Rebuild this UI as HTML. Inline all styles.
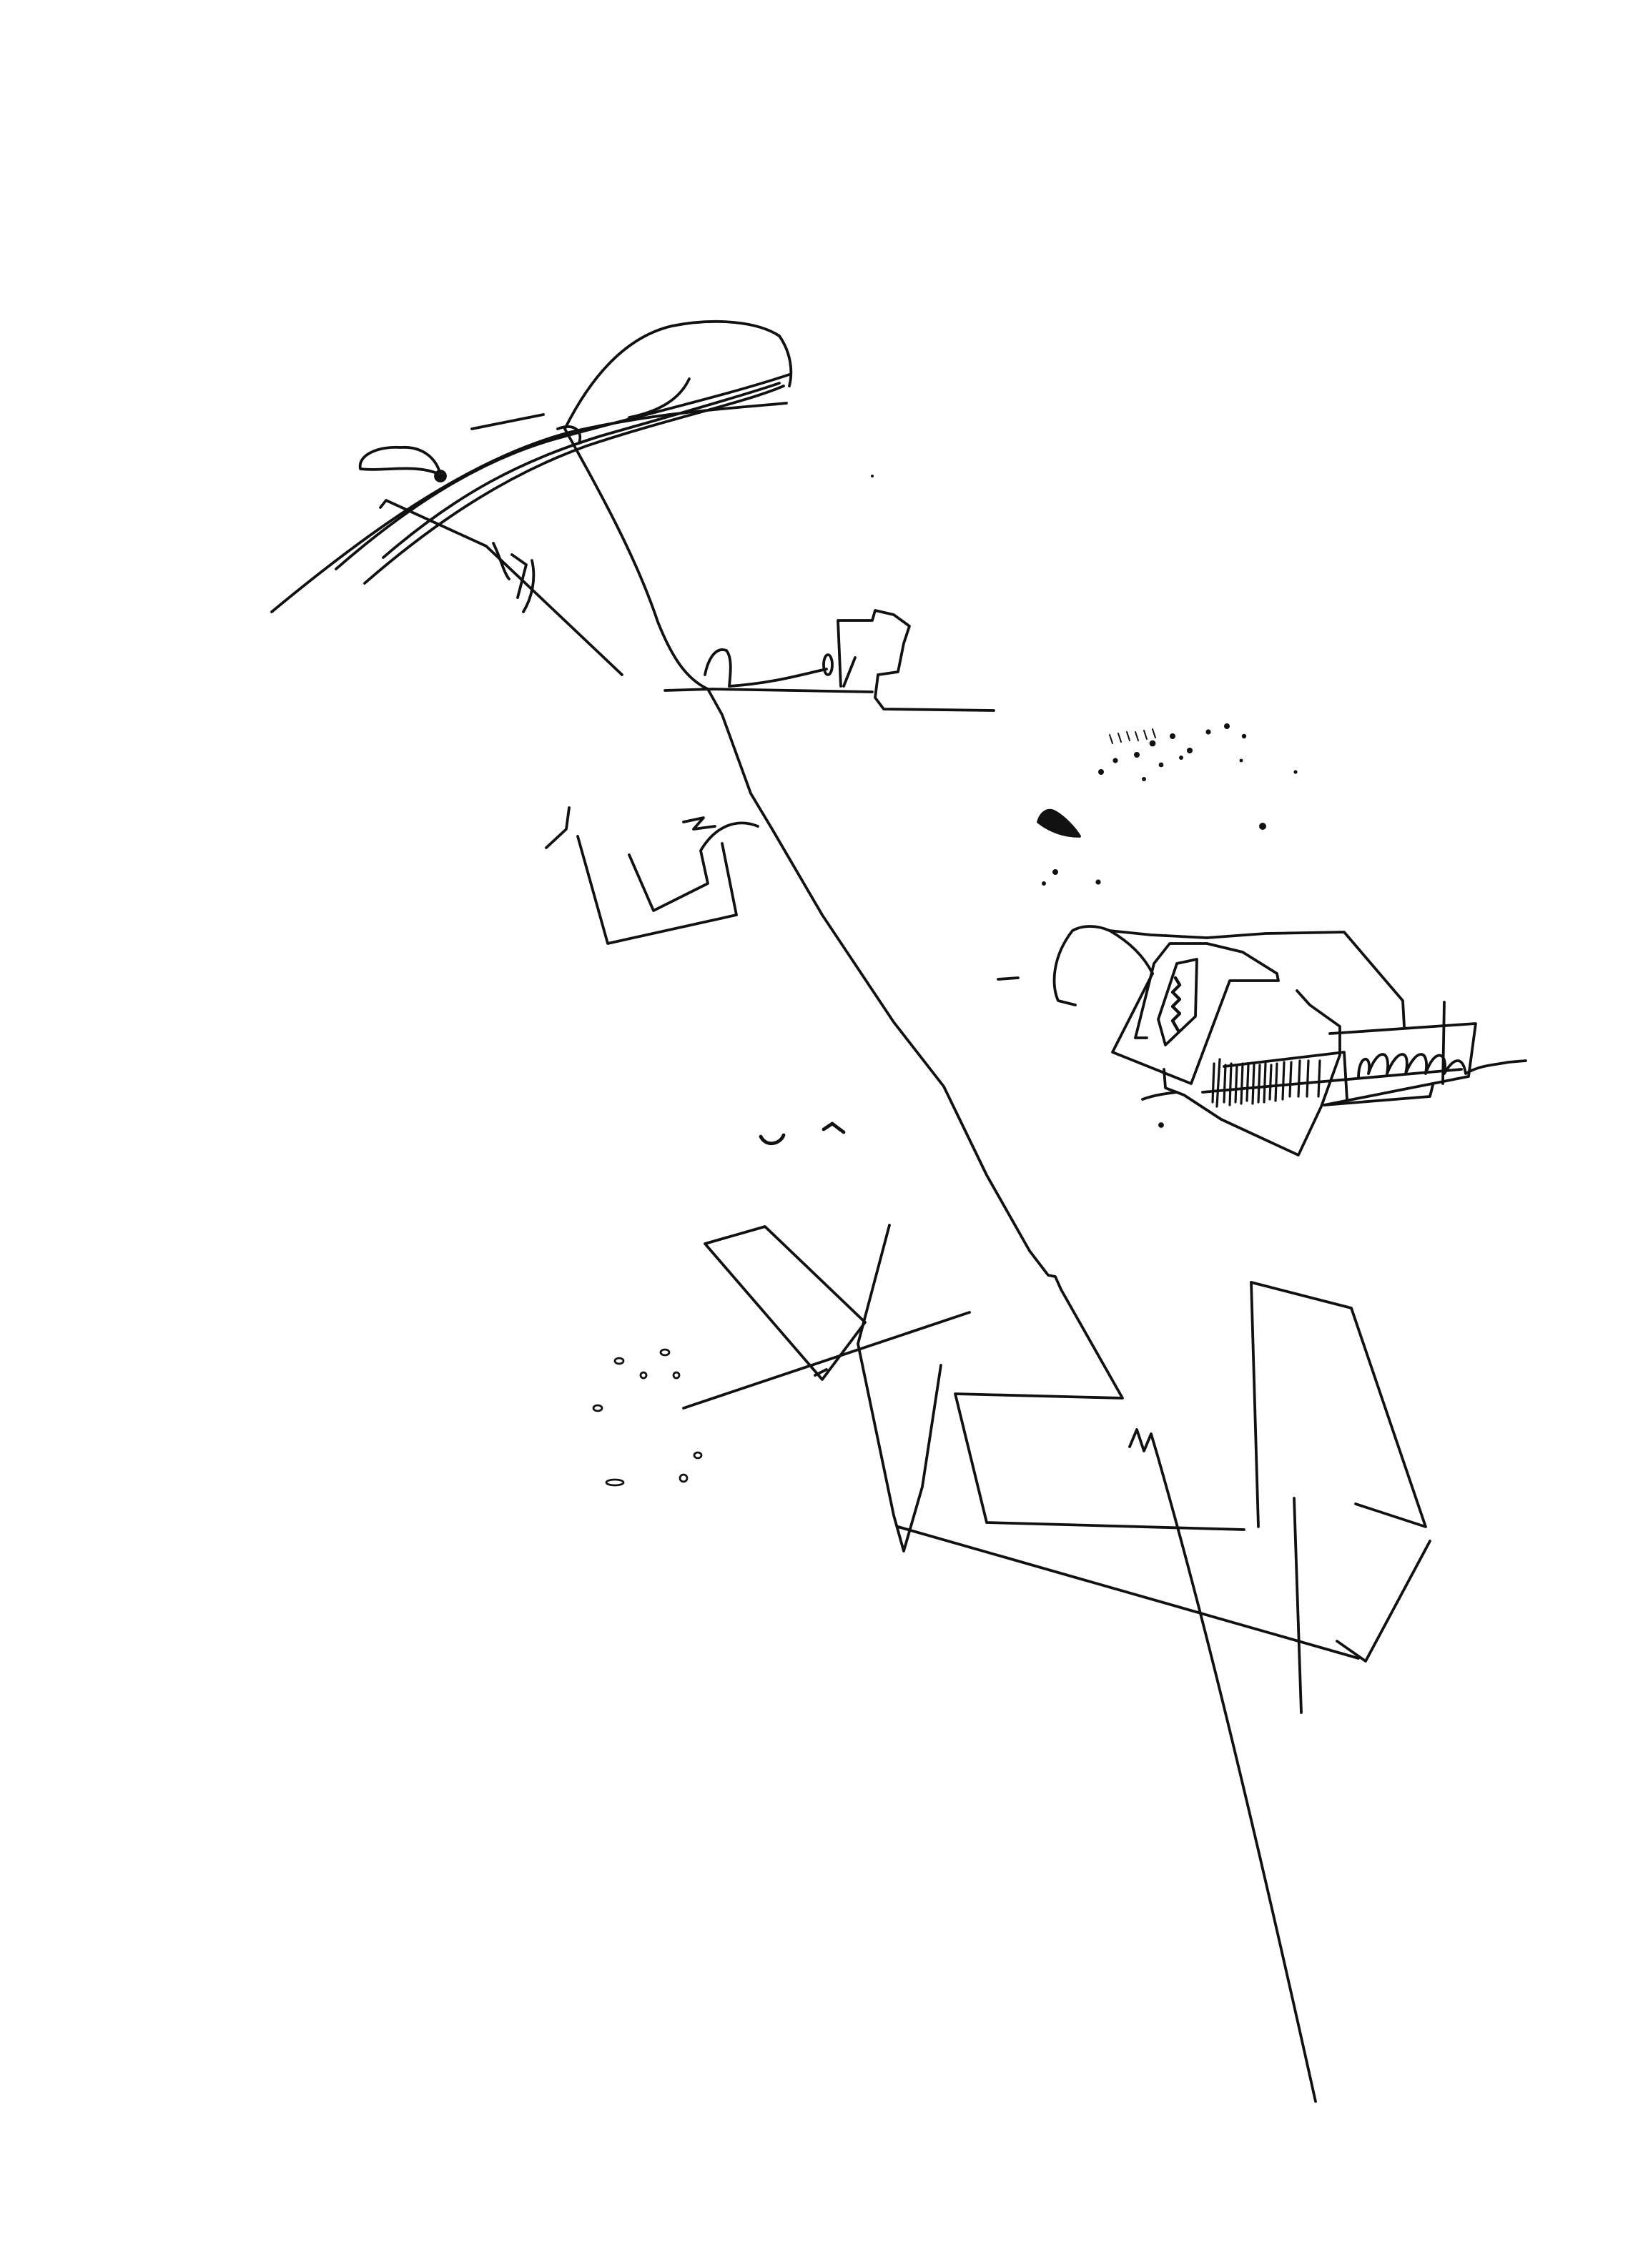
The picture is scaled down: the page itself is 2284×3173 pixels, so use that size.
<!DOCTYPE html>
<html><head><meta charset="utf-8"><style>html,body{margin:0;padding:0;background:#fff}svg{display:block}</style></head>
<body>
<svg width="2284" height="3173" viewBox="0 0 1142 1586.5" xmlns="http://www.w3.org/2000/svg">
<g fill="none" stroke="#111" stroke-width="1.9" stroke-linecap="round" stroke-linejoin="round">
<!-- top sketch -->
<path d="M190,428 C260,370 330,320 400,302 C460,288 520,285 550,282"/>
<path d="M255,408 C310,360 360,330 410,312 C470,292 520,282 548,270"/>
<path d="M235,398 C290,350 340,320 392,306 C450,290 510,276 552,262"/>
<path d="M268,390 C320,345 365,322 420,305 C480,288 525,275 545,268"/>
<path d="M395,300 C415,260 440,235 470,228 C500,222 530,225 545,235 C552,245 555,258 552,270"/>
<path d="M482,265 C475,280 460,288 440,292"/>
<path d="M330,300 L380,290" />
<path d="M252,328 C250,318 265,312 280,313 C295,312 305,320 308,332 C290,324 270,330 252,328 Z"/>
<circle cx="308" cy="333" r="3.5" fill="#111"/>
<path d="M266,355 L270,350 L340,382 L435,472"/>
<path d="M345,380 C350,390 352,400 356,405 M358,388 L368,395 L362,418 M372,392 C375,405 372,418 366,428"/>
<path d="M390,300 C400,296 408,300 405,310"/>
<!-- main line -->
<path d="M395,300 C420,345 445,390 460,435 C470,460 480,475 495,482 L505,500 L525,555 L540,580 L575,640 L625,715 L660,760 L690,822 L720,875 L733,892 L738,893 L742,902 L785,978 L668,975 L690,1065 L870,1070"/>
<!-- horizontal with building -->
<path d="M465,483 L498,482 L610,484"/>
<path d="M493,472 C495,462 500,452 508,455 C512,460 511,470 510,480"/>
<path d="M510,480 C540,478 560,472 578,468"/>
<ellipse cx="579" cy="465" rx="3" ry="7" />
<path d="M588,480 L586,434 L610,434 L612,427 L625,430 L636,438 L632,450 L628,470 L614,472 L612,488 L618,496 L695,497"/>
<path d="M590,480 L598,460"/>
<!-- box left -->
<path d="M382,593 L396,580 L398,565 M404,585 L425,660 L515,640 L505,590 M440,598 L457,637 L495,618 L490,595 C500,578 515,572 530,578"/>
<path d="M478,575 L492,572 L485,580 L500,578"/>
<!-- dots -->
<path d="M532,795 C536,803 546,800 548,794" stroke-width="2.4"/>
<path d="M576,790 L582,786 L590,792" stroke-width="2.4"/>
<!-- lower shapes -->
<path d="M493,870 L535,858 L605,925 L575,965 Z"/>
<path d="M570,962 L578,958"/>
<path d="M478,985 L678,918"/>
<path d="M622,857 L600,940 L625,1060 L632,1085 L645,1040 L658,955"/>
<path d="M628,1068 L950,1160"/>
<path d="M875,897 L945,915 L997,1068 L948,1052"/>
<path d="M1000,1078 L955,1162 L935,1148"/>
<path d="M875,897 L880,1068 M905,1048 L910,1198"/>
<path d="M790,1012 L795,1000 L800,1015 L805,1003 L810,1020 C830,1090 860,1200 920,1470"/>
<!-- small dots group -->
<g stroke-width="1.4">
<ellipse cx="433" cy="952" rx="3" ry="2"/><ellipse cx="450" cy="962" rx="2" ry="2"/><ellipse cx="465" cy="946" rx="3" ry="2"/>
<ellipse cx="473" cy="962" rx="2" ry="2"/><ellipse cx="418" cy="985" rx="3" ry="2"/><ellipse cx="488" cy="1018" rx="2.5" ry="2"/>
<ellipse cx="478" cy="1034" rx="2.5" ry="2.5"/><ellipse cx="430" cy="1037" rx="6" ry="2"/>
</g>
<!-- top-right scatter -->
<g fill="#111" stroke="none">
<circle cx="770" cy="540" r="2"/><circle cx="780" cy="532" r="1.8"/><circle cx="795" cy="528" r="2"/><circle cx="806" cy="520" r="2.2"/>
<circle cx="820" cy="515" r="2"/><circle cx="832" cy="525" r="2"/><circle cx="845" cy="512" r="1.8"/><circle cx="858" cy="508" r="2"/>
<circle cx="870" cy="515" r="1.6"/><circle cx="800" cy="545" r="1.5"/><circle cx="812" cy="535" r="1.7"/><circle cx="826" cy="530" r="1.5"/>
<circle cx="906" cy="540" r="1.3"/><circle cx="868" cy="532" r="1.2"/><circle cx="738" cy="610" r="2"/><circle cx="768" cy="617" r="1.8"/><circle cx="730" cy="618" r="1.5"/>
<circle cx="883" cy="578" r="2.5"/><circle cx="610" cy="333" r="1"/>
</g>
<path d="M776,514 L778,520 M782,513 L784,519 M788,512 L790,518 M794,512 L796,518 M800,511 L802,517 M806,510 L808,516" stroke-width="1"/>
<path d="M726,575 C728,568 733,565 738,568 C745,572 752,580 755,585 C745,585 735,582 726,575 Z" fill="#111"/>
<!-- right building -->
<path d="M698,685 L712,684"/>
<g transform="translate(15,9)">
<path d="M737,694 L725,691 C720,680 721,660 735,642 C742,638 752,638 761,642 C775,650 785,660 791,672"/>
<path d="M761,642 L790,645 L829,647 L870,644 L925,643 L966,691 L967,709"/>
<path d="M791,672 L763,727 L818,749 L845,677 L879,677 L878,672 L854,657 L829,651 L803,651 L792,665 L779,717 L787,717"/>
<path d="M795,704 L808,665 L822,662 L821,702 L800,722 Z"/>
<path d="M807,675 L810,680 L805,685 L810,690 L805,695 L810,700 L805,705 L809,712" stroke-width="2.2"/>
<path d="M799,739 L800,752 L813,757 L839,774 L893,799 L909,765 L922,729 L922,709 L901,694 L892,684"/>
<path d="M915,714 L1017,707 L1012,744 L911,764"/>
<path d="M987,750 L985,758 L911,764"/>
<path d="M995,692 L994,749"/>
<path d="M841,737 L925,727 L927,760"/>
<path d="M826,755 L1007,739"/>
<path d="M784,760 C792,757 800,756 808,755"/>
<circle cx="797" cy="778" r="1" fill="#111"/>
<path d="M834,735 L833,762 M838,732 L836,765 M842,736 L841,762 M846,735 L845,764 M850,736 L849,762 M854,735 L853,763 M858,736 L857,761 M862,735 L861,763 M866,736 L865,762 M870,735 L869,762 M874,736 L873,760 M878,735 L877,761 M883,734 L882,760 M888,734 L887,758 M894,733 L893,758 M900,733 L899,758 M908,733 L907,758" stroke-width="1.6"/>
<path d="M935,745 C935,728 945,728 942,742 C948,724 958,724 955,742 C962,724 972,724 968,742 C975,724 985,724 982,742 C988,724 998,726 995,742 C1002,730 1008,730 1010,742 C1020,736 1030,736 1040,734 L1052,733"/>
</g>
</g>
</svg>
</body></html>
